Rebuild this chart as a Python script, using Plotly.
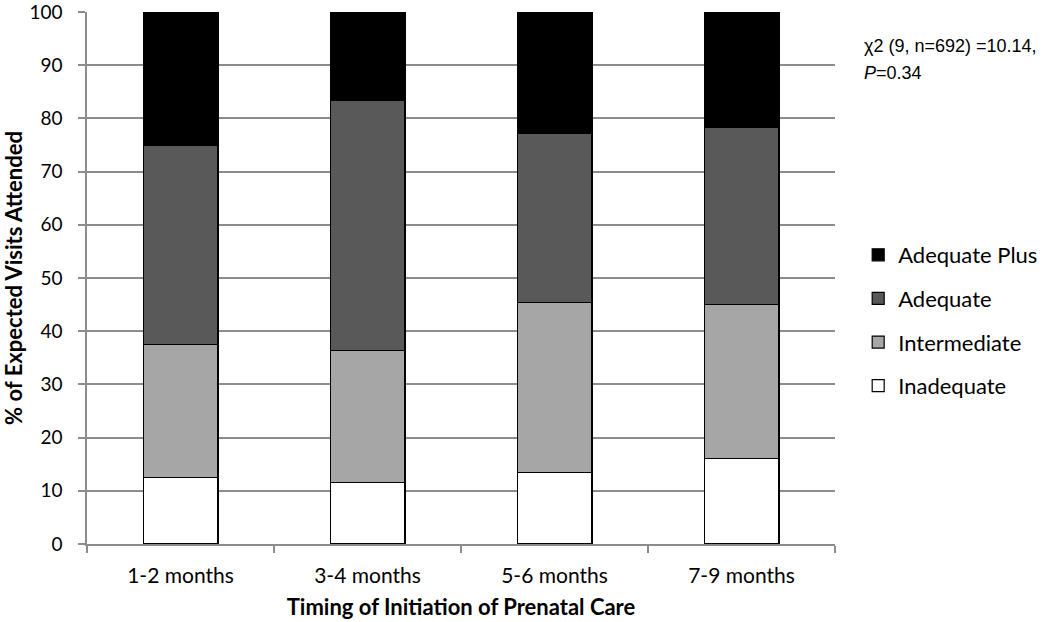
import plotly.graph_objects as go

categories = ["1-2 months", "3-4 months", "5-6 months", "7-9 months"]
inadequate = [12.5, 11.5, 13.5, 16.0]
intermediate = [25.0, 24.9, 31.9, 29.0]
adequate = [37.5, 46.9, 31.8, 33.3]
adequate_plus = [25.0, 16.7, 22.8, 21.7]
y_ticks = [0, 10, 20, 30, 40, 50, 60, 70, 80, 90, 100]

series = [
    ("Inadequate", inadequate, "#ffffff", 4),
    ("Intermediate", intermediate, "#a6a6a6", 3),
    ("Adequate", adequate, "#595959", 2),
    ("Adequate Plus", adequate_plus, "#000000", 1),
]

fig = go.Figure()
for name, vals, color, rank in series:
    fig.add_trace(go.Bar(
        x=categories, y=vals, name=name, legendgroup=name, legendrank=rank,
        marker=dict(color=color, line=dict(color="#000000", width=1.2)),
        width=0.40,
    ))

font_main = "Lato, 'Open Sans', sans-serif"
grid = "#8c8c8c"
fig.update_layout(
    width=1050, height=622,
    barmode="stack",
    plot_bgcolor="white", paper_bgcolor="white",
    margin=dict(l=87, r=215, t=12, b=78, autoexpand=False),
    font=dict(family=font_main, size=20, color="#000000"),
    showlegend=True,
    legend=dict(
        x=1.031, xanchor="left", y=0.42, yanchor="middle",
        traceorder="grouped", tracegroupgap=12,
        font=dict(family=font_main, size=22, color="#000000"),
        itemwidth=30, bgcolor="rgba(0,0,0,0)",
    ),
    xaxis=dict(
        type="category", automargin=False,
        showline=True, linecolor=grid, linewidth=1.5,
        ticks="outside", tickson="boundaries", ticklen=7, tickcolor=grid, tickwidth=1.5,
        ticklabelstandoff=12,
        showgrid=False,
        tickfont=dict(family=font_main, size=21, color="#000000"),
        title=dict(text="<b>Timing of Initiation of Prenatal Care</b>",
                   font=dict(family=font_main, size=22, color="#000000"), standoff=14),
    ),
    yaxis=dict(
        range=[0, 100], tickvals=y_ticks, automargin=False,
        ticklabeloverflow="allow", ticklabelstandoff=12,
        showline=True, linecolor=grid, linewidth=1.5,
        ticks="outside", ticklen=7, tickcolor=grid, tickwidth=1.5,
        showgrid=True, gridcolor=grid, gridwidth=1.5,
        zeroline=False,
        tickfont=dict(family=font_main, size=19, color="#000000"),
        title=dict(text="<b>% of Expected Visits Attended</b>",
                   font=dict(family=font_main, size=22, color="#000000"), standoff=5),
    ),
    annotations=[
        dict(
            text="χ2 (9, n=692) =10.14,",
            xref="paper", yref="paper", x=1.0, y=0.937,
            xshift=27, xanchor="left", yanchor="middle", align="left",
            showarrow=False,
            font=dict(family="'Liberation Sans', Arial, sans-serif", size=18, color="#000000"),
        ),
        dict(
            text="<i>P</i>=0.34",
            xref="paper", yref="paper", x=1.0, y=0.886,
            xshift=27, xanchor="left", yanchor="middle", align="left",
            showarrow=False,
            font=dict(family="'Liberation Sans', Arial, sans-serif", size=18, color="#000000"),
        ),
    ],
)

fig.write_html("out.html", config={"displayModeBar": False},
               post_script="document.body.style.margin='0';")
